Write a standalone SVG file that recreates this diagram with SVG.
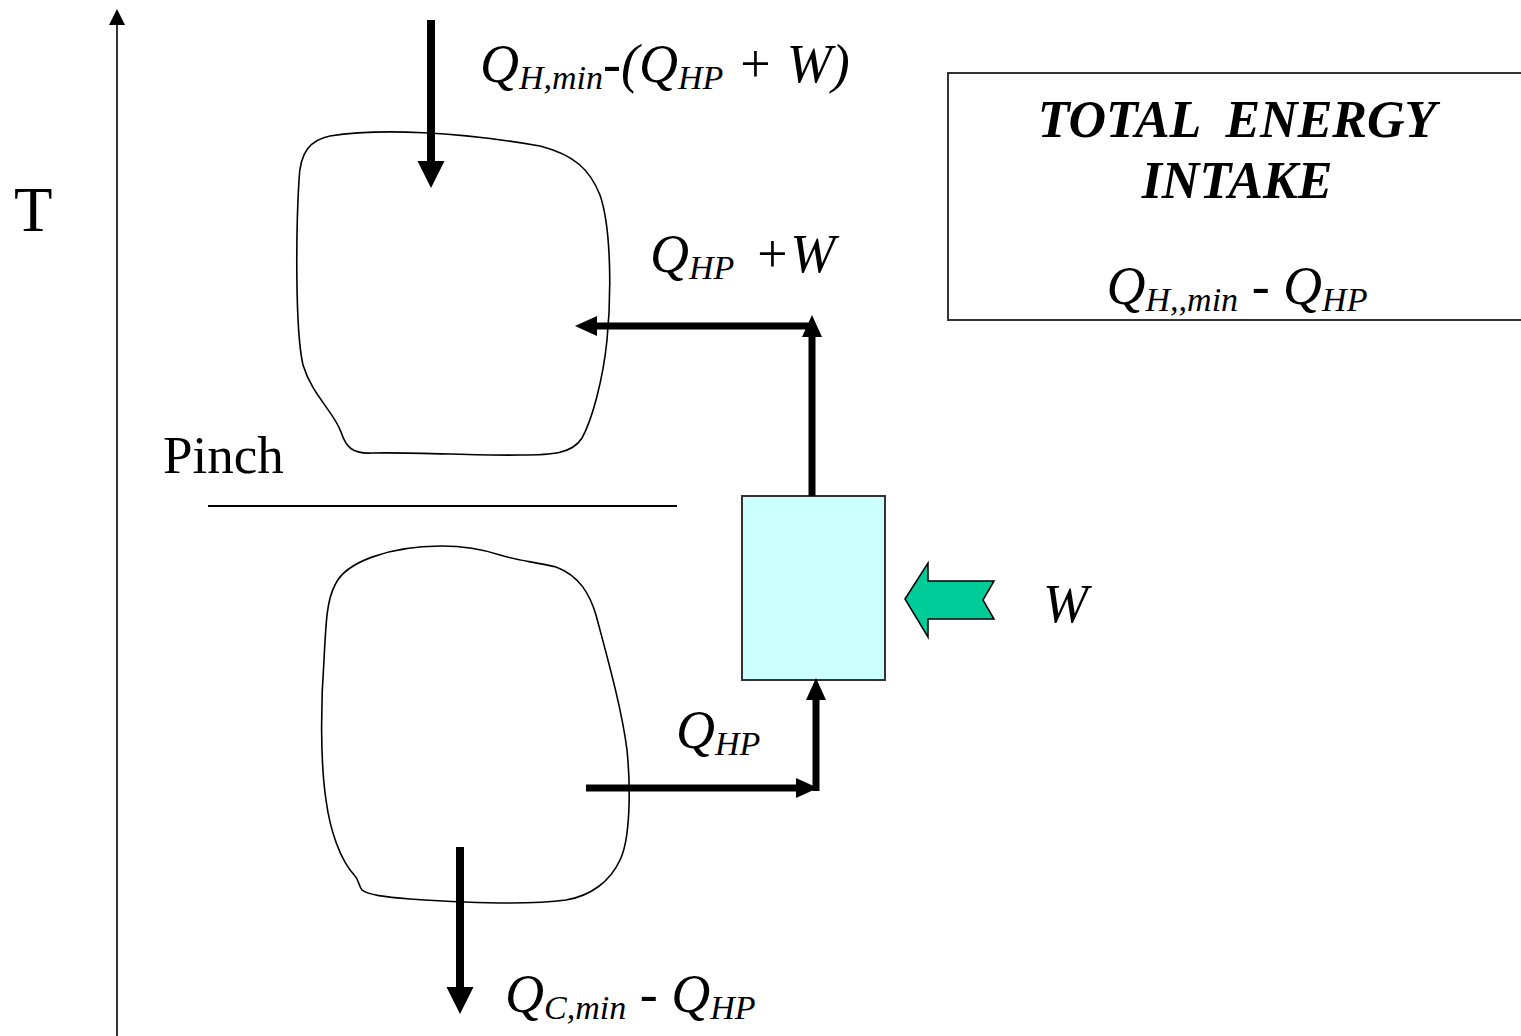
<svg xmlns="http://www.w3.org/2000/svg" width="1521" height="1036" viewBox="0 0 1521 1036">
<style>
.t{font-family:"Liberation Serif","Times New Roman",serif;fill:#000;white-space:pre}
.i{font-style:italic;font-size:54px}
.s{font-size:34px}
.b{font-weight:bold;font-style:italic;font-size:52px}
.blob{fill:none;stroke:#000;stroke-width:1.6}
.arr{stroke:#000;fill:none}
</style>
<defs>
<marker id="big" markerUnits="userSpaceOnUse" markerWidth="40" markerHeight="40" viewBox="0 -20 40 40" refX="0" refY="0" orient="auto" overflow="visible">
<path d="M0,-13.5 L27,0 L0,13.5 z" fill="#000"/>
</marker>
<marker id="sm" markerUnits="userSpaceOnUse" markerWidth="40" markerHeight="40" viewBox="0 -20 40 40" refX="0" refY="0" orient="auto" overflow="visible">
<path d="M0,-10 L22,0 L0,10 z" fill="#000"/>
</marker>
<marker id="ax" markerUnits="userSpaceOnUse" markerWidth="30" markerHeight="30" viewBox="0 -15 30 30" refX="0" refY="0" orient="auto" overflow="visible">
<path d="M0,-8 L16,0 L0,8 z" fill="#000"/>
</marker>
</defs>
<rect width="1521" height="1036" fill="#fff"/>

<g id="axis">
<line x1="117" y1="1036" x2="117" y2="25" stroke="#000" stroke-width="1.6" marker-end="url(#ax)"/>
<text class="t" x="14" y="231" font-size="63">T</text>
</g>

<g id="upper-region">
<path class="blob" d="M330,136 C380,128 460,132 540,146 C575,155 590,170 600,195 C612,230 611,300 607,340 C603,380 592,420 582,438 C572,454 552,455 520,455 C480,456 420,452 372,453 C352,454 346,447 341,432 C334,412 312,395 303,365 C295,330 296,230 299,180 C300,152 310,140 330,136 Z"/>
</g>

<g id="lower-region">
<path class="blob" d="M441,546 C465,546 485,550 500,555 C515,560 535,562 556,567 C580,576 590,595 596,615 C608,660 622,710 627,750 C631,790 630,840 620,860 C610,882 590,896 566,900 C530,905 470,903 410,899 C385,897 368,895 362,890 C358,885 359,880 355,876 C340,860 330,830 326,800 C320,760 321,700 324,660 C326,620 327,600 335,585 C345,562 390,546 441,546 Z"/>
</g>

<g id="pinch">
<text class="t" x="163" y="473" font-size="53">Pinch</text>
<line x1="208" y1="506" x2="677" y2="506" stroke="#000" stroke-width="2"/>
</g>

<g id="heat-pump">
<rect x="742" y="496" width="143" height="184" fill="#CCFFFF" stroke="#333" stroke-width="2"/>
</g>

<g id="work-input">
<polygon points="905,599 928,563 928,581 994,581 983,600 994,619 928,619 928,637" fill="#00CC99" stroke="#000" stroke-width="1.5" stroke-linejoin="miter"/>
<text class="t i" x="1043" y="622">W</text>
</g>

<g id="total-box">
<rect x="948" y="73" width="590" height="247" fill="none" stroke="#333" stroke-width="2"/>
<text class="t b" x="1237" y="137" text-anchor="middle">TOTAL  ENERGY</text>
<text class="t b" x="1237" y="198" text-anchor="middle">INTAKE</text>
<text class="t i" x="1237" y="304" text-anchor="middle">Q<tspan class="s" dy="7">H,,min</tspan><tspan dy="-7"> - Q</tspan><tspan class="s" dy="7">HP</tspan></text>
</g>

<g id="connectors">
<line class="arr" x1="431" y1="20" x2="431" y2="161" stroke-width="8" marker-end="url(#big)"/>
<line class="arr" x1="812" y1="496" x2="812" y2="337" stroke-width="7" marker-end="url(#sm)"/>
<line class="arr" x1="809" y1="326" x2="597" y2="326" stroke-width="7" marker-end="url(#sm)"/>
<line class="arr" x1="586" y1="788" x2="796" y2="788" stroke-width="7" marker-end="url(#sm)"/>
<line class="arr" x1="816" y1="791" x2="816" y2="700" stroke-width="7" marker-end="url(#sm)"/>
<line class="arr" x1="460" y1="847" x2="460" y2="987" stroke-width="8" marker-end="url(#big)"/>
</g>

<g id="labels">
<text class="t i" x="480" y="82">Q<tspan class="s" dy="7">H,min</tspan><tspan dy="-7">-(Q</tspan><tspan class="s" dy="7">HP</tspan><tspan dy="-7"> + W)</tspan></text>
<text class="t i" x="650" y="272">Q<tspan class="s" dy="7">HP</tspan><tspan dy="-7" dx="6"> +W</tspan></text>
<text class="t i" x="676" y="748">Q<tspan class="s" dy="7">HP</tspan></text>
<text class="t i" x="505" y="1012">Q<tspan class="s" dy="7">C,min</tspan><tspan dy="-7"> - Q</tspan><tspan class="s" dy="7">HP</tspan></text>
</g>
</svg>
